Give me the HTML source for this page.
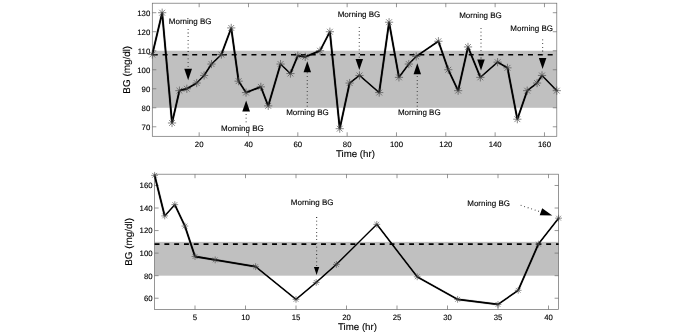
<!DOCTYPE html>
<html><head><meta charset="utf-8"><title>BG plots</title>
<style>html,body{margin:0;padding:0;background:#fff}svg{display:block;will-change:transform;filter:grayscale(1)}text{text-rendering:geometricPrecision;font-family:"Liberation Sans",sans-serif;fill:#000;stroke:#000;stroke-width:0.12}</style>
</head><body>
<svg width="685" height="335" viewBox="0 0 685 335">
<rect width="685" height="335" fill="#fff"/>
<rect x="152.30" y="50.74" width="404.50" height="57.04" fill="#c0c0c0"/>
<rect x="152.30" y="3.20" width="404.50" height="133.10" fill="none" stroke="#6a6a6a" stroke-width="0.7"/>
<path d="M199.16 136.30v-4M199.16 3.20v4" stroke="#6a6a6a" stroke-width="0.7"/>
<text x="199.16" y="146.50" font-size="7.8" text-anchor="middle">20</text>
<path d="M248.49 136.30v-4M248.49 3.20v4" stroke="#6a6a6a" stroke-width="0.7"/>
<text x="248.49" y="146.50" font-size="7.8" text-anchor="middle">40</text>
<path d="M297.82 136.30v-4M297.82 3.20v4" stroke="#6a6a6a" stroke-width="0.7"/>
<text x="297.82" y="146.50" font-size="7.8" text-anchor="middle">60</text>
<path d="M347.15 136.30v-4M347.15 3.20v4" stroke="#6a6a6a" stroke-width="0.7"/>
<text x="347.15" y="146.50" font-size="7.8" text-anchor="middle">80</text>
<path d="M396.48 136.30v-4M396.48 3.20v4" stroke="#6a6a6a" stroke-width="0.7"/>
<text x="396.48" y="146.50" font-size="7.8" text-anchor="middle">100</text>
<path d="M445.81 136.30v-4M445.81 3.20v4" stroke="#6a6a6a" stroke-width="0.7"/>
<text x="445.81" y="146.50" font-size="7.8" text-anchor="middle">120</text>
<path d="M495.14 136.30v-4M495.14 3.20v4" stroke="#6a6a6a" stroke-width="0.7"/>
<text x="495.14" y="146.50" font-size="7.8" text-anchor="middle">140</text>
<path d="M544.47 136.30v-4M544.47 3.20v4" stroke="#6a6a6a" stroke-width="0.7"/>
<text x="544.47" y="146.50" font-size="7.8" text-anchor="middle">160</text>
<path d="M152.30 126.79h4M556.80 126.79h-4" stroke="#6a6a6a" stroke-width="0.7"/>
<text x="150.30" y="129.69" font-size="7.8" text-anchor="end">70</text>
<path d="M152.30 107.78h4M556.80 107.78h-4" stroke="#6a6a6a" stroke-width="0.7"/>
<text x="150.30" y="110.68" font-size="7.8" text-anchor="end">80</text>
<path d="M152.30 88.76h4M556.80 88.76h-4" stroke="#6a6a6a" stroke-width="0.7"/>
<text x="150.30" y="91.66" font-size="7.8" text-anchor="end">90</text>
<path d="M152.30 69.75h4M556.80 69.75h-4" stroke="#6a6a6a" stroke-width="0.7"/>
<text x="150.30" y="72.65" font-size="7.8" text-anchor="end">100</text>
<path d="M152.30 50.74h4M556.80 50.74h-4" stroke="#6a6a6a" stroke-width="0.7"/>
<text x="150.30" y="53.64" font-size="7.8" text-anchor="end">110</text>
<path d="M152.30 31.72h4M556.80 31.72h-4" stroke="#6a6a6a" stroke-width="0.7"/>
<text x="150.30" y="34.62" font-size="7.8" text-anchor="end">120</text>
<path d="M152.30 12.71h4M556.80 12.71h-4" stroke="#6a6a6a" stroke-width="0.7"/>
<text x="150.30" y="15.61" font-size="7.8" text-anchor="end">130</text>
<path d="M152.30 54.79H556.80" stroke="#000" stroke-width="1.65" stroke-dasharray="5.0 4.875" stroke-dashoffset="-0.4"/>
<polyline points="152.30,54.54 162.17,12.71 172.03,122.99 179.43,90.67 186.83,88.76 196.70,83.06 204.10,75.45 211.50,64.05 221.36,54.54 231.23,27.92 238.63,81.16 246.03,92.57 260.82,86.86 268.22,105.88 280.56,64.05 290.42,73.55 297.82,55.68 305.22,56.82 320.02,50.74 329.89,31.72 339.75,128.69 349.62,83.06 359.48,75.45 379.21,92.57 389.08,22.21 398.95,77.36 408.81,64.05 416.21,56.44 438.41,41.23 448.28,69.75 458.14,90.67 468.01,46.93 480.34,77.36 497.60,62.14 507.47,67.85 517.34,119.19 527.20,90.67 537.07,83.06 542.00,75.45 556.80,90.67" fill="none" stroke="#000" stroke-width="1.0" stroke-linejoin="miter" stroke-miterlimit="8"/>
<path d="M151.40 54.54L153.20 54.54L163.07 12.71L161.27 12.71ZM161.27 12.71L163.07 12.71L172.93 122.99L171.13 122.99ZM171.13 122.99L172.93 122.99L180.33 90.67L178.53 90.67ZM179.43 89.77L179.43 91.57L186.83 89.66L186.83 87.86ZM186.83 87.86L186.83 89.66L196.70 83.96L196.70 82.16ZM195.80 83.06L197.60 83.06L205.00 75.45L203.20 75.45ZM203.20 75.45L205.00 75.45L212.40 64.05L210.60 64.05ZM211.50 63.15L211.50 64.95L221.36 55.44L221.36 53.64ZM220.46 54.54L222.26 54.54L232.13 27.92L230.33 27.92ZM230.33 27.92L232.13 27.92L239.53 81.16L237.73 81.16ZM237.73 81.16L239.53 81.16L246.93 92.57L245.13 92.57ZM246.03 91.67L246.03 93.47L260.82 87.76L260.82 85.96ZM259.92 86.86L261.72 86.86L269.12 105.88L267.32 105.88ZM267.32 105.88L269.12 105.88L281.46 64.05L279.66 64.05ZM280.56 63.15L280.56 64.95L290.42 74.45L290.42 72.65ZM289.52 73.55L291.32 73.55L298.72 55.68L296.92 55.68ZM297.82 54.78L297.82 56.58L305.22 57.72L305.22 55.92ZM305.22 55.92L305.22 57.72L320.02 51.64L320.02 49.84ZM319.12 50.74L320.92 50.74L330.79 31.72L328.99 31.72ZM328.99 31.72L330.79 31.72L340.65 128.69L338.85 128.69ZM338.85 128.69L340.65 128.69L350.52 83.06L348.72 83.06ZM349.62 82.16L349.62 83.96L359.48 76.35L359.48 74.55ZM359.48 74.55L359.48 76.35L379.21 93.47L379.21 91.67ZM378.31 92.57L380.11 92.57L389.98 22.21L388.18 22.21ZM388.18 22.21L389.98 22.21L399.85 77.36L398.05 77.36ZM398.05 77.36L399.85 77.36L409.71 64.05L407.91 64.05ZM407.91 64.05L409.71 64.05L417.11 56.44L415.31 56.44ZM416.21 55.54L416.21 57.34L438.41 42.13L438.41 40.33ZM437.51 41.23L439.31 41.23L449.18 69.75L447.38 69.75ZM447.38 69.75L449.18 69.75L459.04 90.67L457.24 90.67ZM457.24 90.67L459.04 90.67L468.91 46.93L467.11 46.93ZM467.11 46.93L468.91 46.93L481.24 77.36L479.44 77.36ZM480.34 76.46L480.34 78.26L497.60 63.04L497.60 61.24ZM497.60 61.24L497.60 63.04L507.47 68.75L507.47 66.95ZM506.57 67.85L508.37 67.85L518.24 119.19L516.44 119.19ZM516.44 119.19L518.24 119.19L528.10 90.67L526.30 90.67ZM527.20 89.77L527.20 91.57L537.07 83.96L537.07 82.16ZM536.17 83.06L537.97 83.06L542.90 75.45L541.10 75.45ZM541.10 75.45L542.90 75.45L557.70 90.67L555.90 90.67Z" fill="#000" stroke="#000" stroke-width="0.15" stroke-linejoin="round"/>
<path d="M148.20 54.54h8.20M152.30 50.44v8.20M149.40 51.64l5.80 5.80M149.40 57.44l5.80 -5.80M158.07 12.71h8.20M162.17 8.61v8.20M159.27 9.81l5.80 5.80M159.27 15.61l5.80 -5.80M167.93 122.99h8.20M172.03 118.89v8.20M169.13 120.09l5.80 5.80M169.13 125.89l5.80 -5.80M175.33 90.67h8.20M179.43 86.57v8.20M176.53 87.77l5.80 5.80M176.53 93.56l5.80 -5.80M182.73 88.76h8.20M186.83 84.66v8.20M183.93 85.87l5.80 5.80M183.93 91.66l5.80 -5.80M192.60 83.06h8.20M196.70 78.96v8.20M193.80 80.16l5.80 5.80M193.80 85.96l5.80 -5.80M200.00 75.45h8.20M204.10 71.35v8.20M201.20 72.56l5.80 5.80M201.20 78.35l5.80 -5.80M207.40 64.05h8.20M211.50 59.95v8.20M208.60 61.15l5.80 5.80M208.60 66.94l5.80 -5.80M217.26 54.54h8.20M221.36 50.44v8.20M218.46 51.64l5.80 5.80M218.46 57.44l5.80 -5.80M227.13 27.92h8.20M231.23 23.82v8.20M228.33 25.02l5.80 5.80M228.33 30.82l5.80 -5.80M234.53 81.16h8.20M238.63 77.06v8.20M235.73 78.26l5.80 5.80M235.73 84.06l5.80 -5.80M241.93 92.57h8.20M246.03 88.47v8.20M243.13 89.67l5.80 5.80M243.13 95.47l5.80 -5.80M256.72 86.86h8.20M260.82 82.76v8.20M257.93 83.96l5.80 5.80M257.93 89.76l5.80 -5.80M264.12 105.88h8.20M268.22 101.78v8.20M265.32 102.98l5.80 5.80M265.32 108.78l5.80 -5.80M276.46 64.05h8.20M280.56 59.95v8.20M277.66 61.15l5.80 5.80M277.66 66.94l5.80 -5.80M286.32 73.55h8.20M290.42 69.45v8.20M287.52 70.65l5.80 5.80M287.52 76.45l5.80 -5.80M293.72 55.68h8.20M297.82 51.58v8.20M294.92 52.78l5.80 5.80M294.92 58.58l5.80 -5.80M301.12 56.82h8.20M305.22 52.72v8.20M302.32 53.92l5.80 5.80M302.32 59.72l5.80 -5.80M315.92 50.74h8.20M320.02 46.64v8.20M317.12 47.84l5.80 5.80M317.12 53.63l5.80 -5.80M325.79 31.72h8.20M329.89 27.62v8.20M326.99 28.82l5.80 5.80M326.99 34.62l5.80 -5.80M335.65 128.69h8.20M339.75 124.59v8.20M336.85 125.80l5.80 5.80M336.85 131.59l5.80 -5.80M345.52 83.06h8.20M349.62 78.96v8.20M346.72 80.16l5.80 5.80M346.72 85.96l5.80 -5.80M355.38 75.45h8.20M359.48 71.35v8.20M356.58 72.56l5.80 5.80M356.58 78.35l5.80 -5.80M375.11 92.57h8.20M379.21 88.47v8.20M376.32 89.67l5.80 5.80M376.32 95.47l5.80 -5.80M384.98 22.21h8.20M389.08 18.11v8.20M386.18 19.32l5.80 5.80M386.18 25.11l5.80 -5.80M394.85 77.36h8.20M398.95 73.26v8.20M396.05 74.46l5.80 5.80M396.05 80.25l5.80 -5.80M404.71 64.05h8.20M408.81 59.95v8.20M405.91 61.15l5.80 5.80M405.91 66.94l5.80 -5.80M412.11 56.44h8.20M416.21 52.34v8.20M413.31 53.54l5.80 5.80M413.31 59.34l5.80 -5.80M434.31 41.23h8.20M438.41 37.13v8.20M435.51 38.33l5.80 5.80M435.51 44.13l5.80 -5.80M444.18 69.75h8.20M448.28 65.65v8.20M445.38 66.85l5.80 5.80M445.38 72.65l5.80 -5.80M454.04 90.67h8.20M458.14 86.57v8.20M455.24 87.77l5.80 5.80M455.24 93.56l5.80 -5.80M463.91 46.93h8.20M468.01 42.83v8.20M465.11 44.03l5.80 5.80M465.11 49.83l5.80 -5.80M476.24 77.36h8.20M480.34 73.26v8.20M477.44 74.46l5.80 5.80M477.44 80.25l5.80 -5.80M493.50 62.14h8.20M497.60 58.04v8.20M494.71 59.25l5.80 5.80M494.71 65.04l5.80 -5.80M503.37 67.85h8.20M507.47 63.75v8.20M504.57 64.95l5.80 5.80M504.57 70.75l5.80 -5.80M513.24 119.19h8.20M517.34 115.09v8.20M514.44 116.29l5.80 5.80M514.44 122.09l5.80 -5.80M523.10 90.67h8.20M527.20 86.57v8.20M524.30 87.77l5.80 5.80M524.30 93.56l5.80 -5.80M532.97 83.06h8.20M537.07 78.96v8.20M534.17 80.16l5.80 5.80M534.17 85.96l5.80 -5.80M537.90 75.45h8.20M542.00 71.35v8.20M539.10 72.56l5.80 5.80M539.10 78.35l5.80 -5.80M552.70 90.67h8.20M556.80 86.57v8.20M553.90 87.77l5.80 5.80M553.90 93.56l5.80 -5.80" fill="none" stroke="#444" stroke-width="0.65"/>
<text x="355.45" y="157.00" font-size="9.7" text-anchor="middle">Time (hr)</text>
<text transform="translate(130.10 69.75) rotate(-90)" font-size="9.9" text-anchor="middle">BG (mg/dl)</text>
<rect x="154.60" y="241.85" width="404.00" height="33.83" fill="#c0c0c0"/>
<rect x="154.60" y="174.20" width="404.00" height="135.30" fill="none" stroke="#6a6a6a" stroke-width="0.7"/>
<path d="M195.00 309.50v-4M195.00 174.20v4" stroke="#6a6a6a" stroke-width="0.7"/>
<text x="195.00" y="319.70" font-size="7.8" text-anchor="middle">5</text>
<path d="M245.50 309.50v-4M245.50 174.20v4" stroke="#6a6a6a" stroke-width="0.7"/>
<text x="245.50" y="319.70" font-size="7.8" text-anchor="middle">10</text>
<path d="M296.00 309.50v-4M296.00 174.20v4" stroke="#6a6a6a" stroke-width="0.7"/>
<text x="296.00" y="319.70" font-size="7.8" text-anchor="middle">15</text>
<path d="M346.50 309.50v-4M346.50 174.20v4" stroke="#6a6a6a" stroke-width="0.7"/>
<text x="346.50" y="319.70" font-size="7.8" text-anchor="middle">20</text>
<path d="M397.00 309.50v-4M397.00 174.20v4" stroke="#6a6a6a" stroke-width="0.7"/>
<text x="397.00" y="319.70" font-size="7.8" text-anchor="middle">25</text>
<path d="M447.50 309.50v-4M447.50 174.20v4" stroke="#6a6a6a" stroke-width="0.7"/>
<text x="447.50" y="319.70" font-size="7.8" text-anchor="middle">30</text>
<path d="M498.00 309.50v-4M498.00 174.20v4" stroke="#6a6a6a" stroke-width="0.7"/>
<text x="498.00" y="319.70" font-size="7.8" text-anchor="middle">35</text>
<path d="M548.50 309.50v-4M548.50 174.20v4" stroke="#6a6a6a" stroke-width="0.7"/>
<text x="548.50" y="319.70" font-size="7.8" text-anchor="middle">40</text>
<path d="M154.60 298.23h4M558.60 298.23h-4" stroke="#6a6a6a" stroke-width="0.7"/>
<text x="152.60" y="301.12" font-size="7.8" text-anchor="end">60</text>
<path d="M154.60 275.68h4M558.60 275.68h-4" stroke="#6a6a6a" stroke-width="0.7"/>
<text x="152.60" y="278.57" font-size="7.8" text-anchor="end">80</text>
<path d="M154.60 253.12h4M558.60 253.12h-4" stroke="#6a6a6a" stroke-width="0.7"/>
<text x="152.60" y="256.02" font-size="7.8" text-anchor="end">100</text>
<path d="M154.60 230.57h4M558.60 230.57h-4" stroke="#6a6a6a" stroke-width="0.7"/>
<text x="152.60" y="233.47" font-size="7.8" text-anchor="end">120</text>
<path d="M154.60 208.02h4M558.60 208.02h-4" stroke="#6a6a6a" stroke-width="0.7"/>
<text x="152.60" y="210.92" font-size="7.8" text-anchor="end">140</text>
<path d="M154.60 185.47h4M558.60 185.47h-4" stroke="#6a6a6a" stroke-width="0.7"/>
<text x="152.60" y="188.37" font-size="7.8" text-anchor="end">160</text>
<path d="M154.60 244.10H558.60" stroke="#000" stroke-width="1.65" stroke-dasharray="4.9 4.89" stroke-dashoffset="0"/>
<polyline points="154.60,175.33 164.70,215.92 174.80,204.64 184.90,226.06 195.00,256.51 215.20,259.89 255.60,266.65 296.00,299.35 316.20,282.44 336.40,264.40 376.80,224.37 417.20,276.80 457.60,299.35 498.00,304.43 518.20,290.33 538.40,244.10 558.60,218.17" fill="none" stroke="#000" stroke-width="1.0" stroke-linejoin="miter" stroke-miterlimit="8"/>
<path d="M153.70 175.33L155.50 175.33L165.60 215.92L163.80 215.92ZM163.80 215.92L165.60 215.92L175.70 204.64L173.90 204.64ZM173.90 204.64L175.70 204.64L185.80 226.06L184.00 226.06ZM184.00 226.06L185.80 226.06L195.90 256.51L194.10 256.51ZM195.00 255.61L195.00 257.41L215.20 260.79L215.20 258.99ZM215.20 258.99L215.20 260.79L255.60 267.55L255.60 265.75ZM255.60 265.75L255.60 267.55L296.00 300.25L296.00 298.45ZM296.00 298.45L296.00 300.25L316.20 283.34L316.20 281.54ZM316.20 281.54L316.20 283.34L336.40 265.30L336.40 263.50ZM336.40 263.50L336.40 265.30L376.80 225.27L376.80 223.47ZM375.90 224.37L377.70 224.37L418.10 276.80L416.30 276.80ZM417.20 275.90L417.20 277.70L457.60 300.25L457.60 298.45ZM457.60 298.45L457.60 300.25L498.00 305.33L498.00 303.53ZM498.00 303.53L498.00 305.33L518.20 291.23L518.20 289.43ZM517.30 290.33L519.10 290.33L539.30 244.10L537.50 244.10ZM537.50 244.10L539.30 244.10L559.50 218.17L557.70 218.17Z" fill="#000" stroke="#000" stroke-width="0.15" stroke-linejoin="round"/>
<path d="M151.20 175.33h6.80M154.60 171.93v6.80M152.20 172.92l4.81 4.81M152.20 177.73l4.81 -4.81M161.30 215.92h6.80M164.70 212.52v6.80M162.30 213.51l4.81 4.81M162.30 218.32l4.81 -4.81M171.40 204.64h6.80M174.80 201.24v6.80M172.40 202.24l4.81 4.81M172.40 207.05l4.81 -4.81M181.50 226.06h6.80M184.90 222.66v6.80M182.50 223.66l4.81 4.81M182.50 228.47l4.81 -4.81M191.60 256.51h6.80M195.00 253.11v6.80M192.60 254.10l4.81 4.81M192.60 258.91l4.81 -4.81M211.80 259.89h6.80M215.20 256.49v6.80M212.80 257.49l4.81 4.81M212.80 262.29l4.81 -4.81M252.20 266.65h6.80M255.60 263.25v6.80M253.20 264.25l4.81 4.81M253.20 269.06l4.81 -4.81M292.60 299.35h6.80M296.00 295.95v6.80M293.60 296.95l4.81 4.81M293.60 301.76l4.81 -4.81M312.80 282.44h6.80M316.20 279.04v6.80M313.80 280.04l4.81 4.81M313.80 284.84l4.81 -4.81M333.00 264.40h6.80M336.40 261.00v6.80M334.00 262.00l4.81 4.81M334.00 266.80l4.81 -4.81M373.40 224.37h6.80M376.80 220.97v6.80M374.40 221.97l4.81 4.81M374.40 226.78l4.81 -4.81M413.80 276.80h6.80M417.20 273.40v6.80M414.80 274.40l4.81 4.81M414.80 279.21l4.81 -4.81M454.20 299.35h6.80M457.60 295.95v6.80M455.20 296.95l4.81 4.81M455.20 301.76l4.81 -4.81M494.60 304.43h6.80M498.00 301.03v6.80M495.60 302.02l4.81 4.81M495.60 306.83l4.81 -4.81M514.80 290.33h6.80M518.20 286.93v6.80M515.80 287.93l4.81 4.81M515.80 292.74l4.81 -4.81M535.00 244.10h6.80M538.40 240.70v6.80M536.00 241.70l4.81 4.81M536.00 246.51l4.81 -4.81M555.20 218.17h6.80M558.60 214.77v6.80M556.20 215.77l4.81 4.81M556.20 220.58l4.81 -4.81" fill="none" stroke="#444" stroke-width="0.6"/>
<text x="357.50" y="330.20" font-size="9.7" text-anchor="middle">Time (hr)</text>
<text transform="translate(132.40 241.85) rotate(-90)" font-size="9.9" text-anchor="middle">BG (mg/dl)</text>
<path d="M188.15 28.90V68.85" stroke="#333" stroke-width="1.2" stroke-dasharray="0.8 2.9"/>
<path d="M188.15 80.15L184.30 68.85H192.00Z" fill="#000"/>
<text x="168.85" y="23.80" font-size="8.0">Morning BG</text>
<path d="M246.15 122.20V111.60" stroke="#333" stroke-width="1.2" stroke-dasharray="0.8 2.9"/>
<path d="M246.15 100.60L242.30 111.60H250.00Z" fill="#000"/>
<text x="221.05" y="130.70" font-size="8.0">Morning BG</text>
<path d="M307.30 106.60V72.30" stroke="#333" stroke-width="1.2" stroke-dasharray="0.8 2.9"/>
<path d="M307.30 61.30L303.55 72.30H311.05Z" fill="#000"/>
<text x="286.15" y="114.80" font-size="8.0">Morning BG</text>
<path d="M359.30 27.20V58.90" stroke="#333" stroke-width="1.2" stroke-dasharray="0.8 2.9"/>
<path d="M359.30 69.90L355.55 58.90H363.05Z" fill="#000"/>
<text x="337.65" y="16.80" font-size="8.0">Morning BG</text>
<path d="M417.30 106.60V74.20" stroke="#333" stroke-width="1.2" stroke-dasharray="0.8 2.9"/>
<path d="M417.30 63.20L413.55 74.20H421.05Z" fill="#000"/>
<text x="397.95" y="115.40" font-size="8.0">Morning BG</text>
<path d="M481.00 28.00V59.50" stroke="#333" stroke-width="1.2" stroke-dasharray="0.8 2.9"/>
<path d="M481.00 70.50L477.25 59.50H484.75Z" fill="#000"/>
<text x="459.15" y="17.50" font-size="8.0">Morning BG</text>
<path d="M542.60 39.50V58.10" stroke="#333" stroke-width="1.2" stroke-dasharray="0.8 2.9"/>
<path d="M542.60 69.00L538.85 58.10H546.35Z" fill="#000"/>
<text x="510.35" y="31.00" font-size="8.0">Morning BG</text>
<path d="M316.60 217.10V267.00" stroke="#333" stroke-width="1.2" stroke-dasharray="0.8 2.9"/>
<path d="M316.60 275.00L313.95 267.00H319.25Z" fill="#000"/>
<text x="290.85" y="204.60" font-size="8.0">Morning BG</text>
<text x="467.25" y="205.8" font-size="8.0">Morning BG</text>
<path d="M520.7 205.3L540.6 211.9" stroke="#333" stroke-width="1.2" stroke-dasharray="0.8 2.9"/>
<path d="M552.3 215.5L542.2 208.3L539.7 215.3Z" fill="#000"/>
</svg>
</body></html>
